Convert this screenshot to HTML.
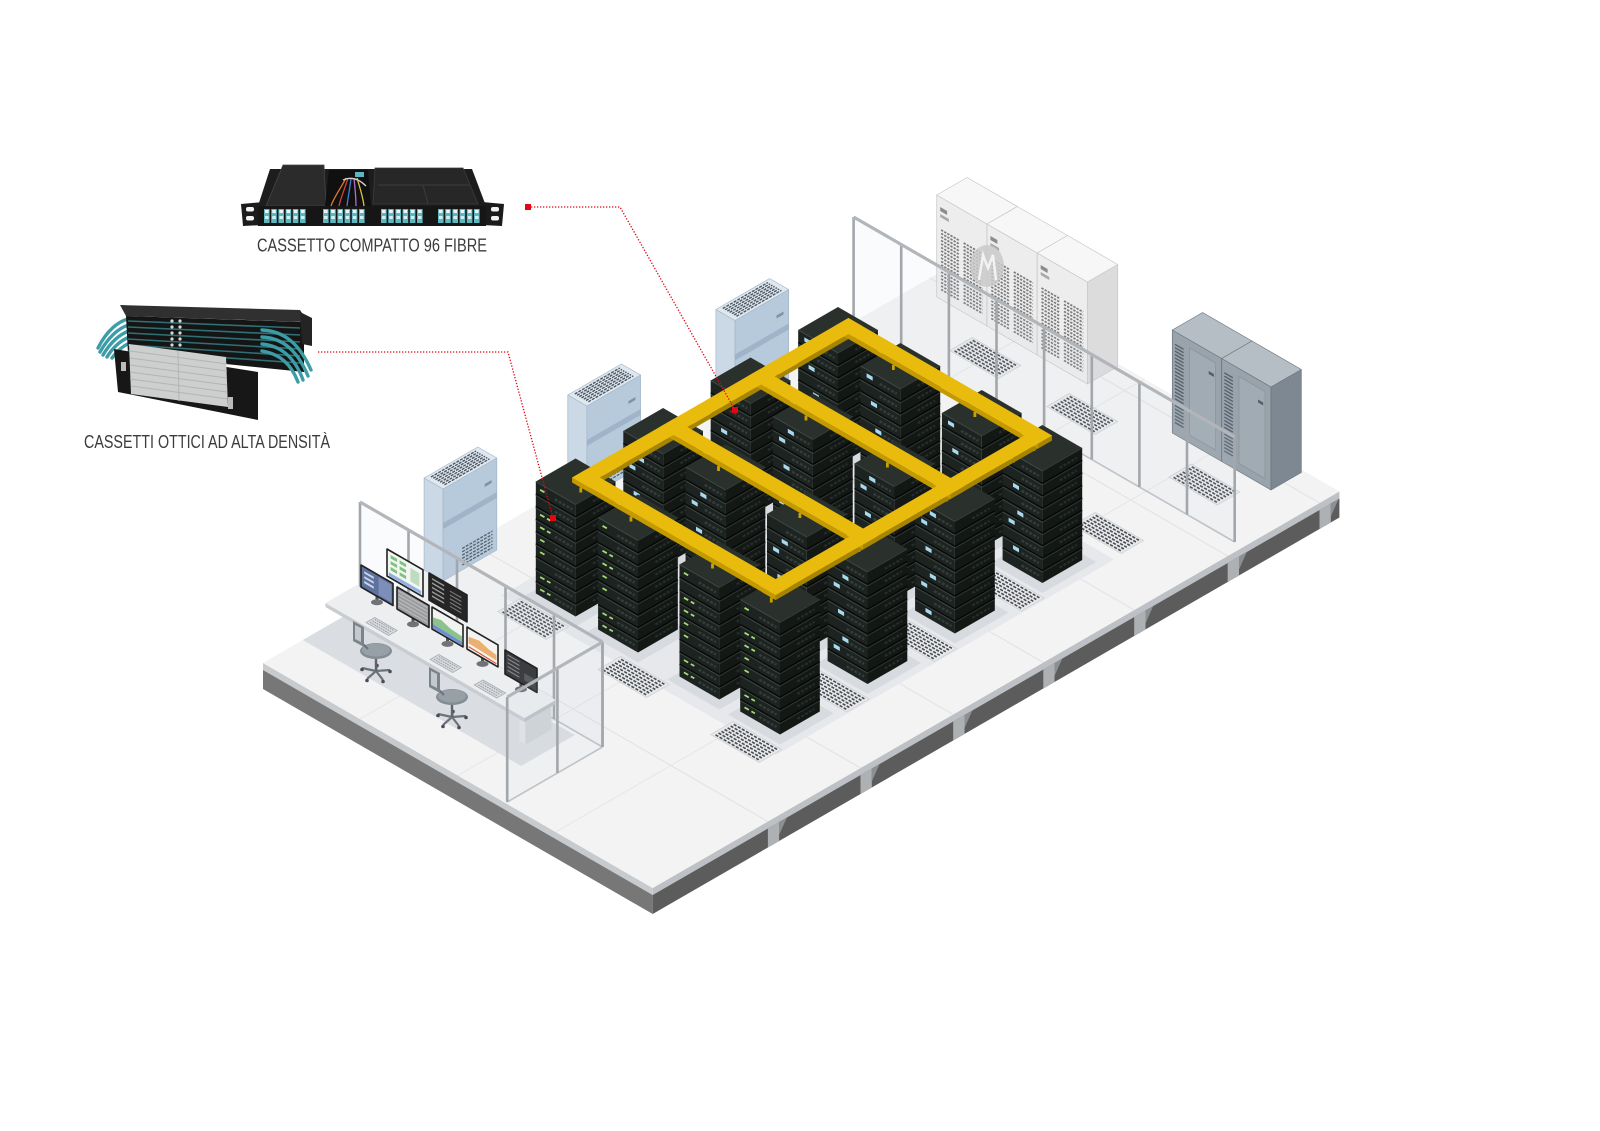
<!DOCTYPE html>
<html><head><meta charset="utf-8"><title>Data center</title>
<style>html,body{margin:0;padding:0;background:#fff;overflow:hidden}svg{display:block}</style>
</head><body>
<svg id="root" xmlns="http://www.w3.org/2000/svg" width="1600" height="1131" viewBox="0 0 1600 1131">
<rect width="1600" height="1131" fill="#ffffff"/>
<g id="scene"></g>

<!-- Product A: cassetto compatto -->
<g id="prodA">
<polygon points="241,204 263,202 263,225 243,226" fill="#1b1b1b"/>
<rect x="246" y="207" width="8" height="4.5" rx="2" fill="#f2f2f2"/>
<rect x="246" y="216" width="8" height="4.5" rx="2" fill="#f2f2f2"/>
<polygon points="482,202 504,204 502,226 482,225" fill="#1b1b1b"/>
<rect x="491" y="207" width="8" height="4.5" rx="2" fill="#f2f2f2"/>
<rect x="491" y="216" width="8" height="4.5" rx="2" fill="#f2f2f2"/>
<polygon points="270,169 472,169 486,206 258,206" fill="#1d1d1d"/>
<polygon points="283,165 324,165 326,206 266,206" fill="#2b2b2b" stroke="#454545" stroke-width="0.8"/>
<polygon points="329,170 368,170 371,206 325,206" fill="#101010"/>
<rect x="355" y="172" width="9" height="5" fill="#5bb8c0"/>
<g fill="none" stroke-width="1.3">
<path d="M346,178 C341,188 334,197 331,206" stroke="#e07b2a"/>
<path d="M348,178 C345,188 341,197 339,206" stroke="#d94040"/>
<path d="M351,178 C350,188 348,197 347,206" stroke="#3d7fd0"/>
<path d="M354,178 C355,188 356,197 356,206" stroke="#b070d0"/>
<path d="M357,178 C360,188 363,197 364,206" stroke="#e0c040"/>
<path d="M343,180 C352,176 360,180 366,186" stroke="#d0d0d0"/>
</g>
<polygon points="375,168 463,168 478,204 373,204" fill="#272727" stroke="#3d3d3d" stroke-width="0.8"/>
<line x1="378" y1="185" x2="470" y2="185" stroke="#3c3c3c"/>
<line x1="423" y1="185" x2="428" y2="204" stroke="#3c3c3c"/>
<rect x="258" y="206" width="228" height="20" fill="#161616"/>
<g id="ports"></g>
</g>

<!-- Product B: cassetti ottici -->
<g id="prodB">
<g fill="none" stroke="#3c9da6" stroke-width="3.4" stroke-linecap="round">
<path d="M132,318 C118,320 106,332 98,348"/>
<path d="M132,324 C118,327 108,338 100,352"/>
<path d="M132,330 C120,333 110,343 103,355"/>
<path d="M132,336 C122,339 113,347 107,357"/>
<path d="M132,342 C124,345 117,351 112,358"/>
</g>
<polygon points="120,305 300,310 308,322 126,316" fill="#303030"/>
<polygon points="126,316 304,322 304,372 128,354" fill="#151515"/>
<g stroke="#2e7076" stroke-width="1.6">
<line x1="128" y1="321" x2="300" y2="328"/>
<line x1="128" y1="327" x2="300" y2="335"/>
<line x1="128" y1="333" x2="300" y2="342"/>
<line x1="128" y1="339" x2="300" y2="349"/>
<line x1="128" y1="345" x2="300" y2="356"/>
<line x1="128" y1="351" x2="300" y2="363"/>
</g>
<polygon points="300,312 312,318 312,346 302,344" fill="#242424"/>
<g fill="#d8d8d8">
<circle cx="172" cy="321" r="1.6"/><circle cx="180" cy="321" r="1.6"/>
<circle cx="172" cy="327" r="1.6"/><circle cx="180" cy="327" r="1.6"/>
<circle cx="172" cy="333" r="1.6"/><circle cx="180" cy="333" r="1.6"/>
<circle cx="172" cy="339" r="1.6"/><circle cx="180" cy="339" r="1.6"/>
<circle cx="172" cy="345" r="1.6"/><circle cx="180" cy="345" r="1.6"/>
</g>
<g fill="none" stroke="#3c9da6" stroke-width="3.4" stroke-linecap="round">
<path d="M262,330 C285,331 300,345 311,370"/>
<path d="M262,337 C284,338 298,352 308,376"/>
<path d="M262,344 C282,346 295,358 303,380"/>
<path d="M262,351 C280,354 291,364 298,382"/>
</g>
<polygon points="114,349 258,372 258,420 118,392" fill="#171717"/>
<polygon points="129,344 226,357 228,407 131,394" fill="#cdcece"/>
<g stroke="#b3b4b4" stroke-width="1">
<line x1="130" y1="351" x2="227" y2="364"/>
<line x1="130" y1="358" x2="227" y2="371"/>
<line x1="130" y1="365" x2="227" y2="378"/>
<line x1="130" y1="372" x2="227" y2="385"/>
<line x1="130" y1="379" x2="227" y2="392"/>
<line x1="131" y1="386" x2="228" y2="399"/>
<line x1="178" y1="351" x2="179" y2="401"/>
</g>
<rect x="121" y="362" width="5" height="9" fill="#bbbbbb"/>
<rect x="228" y="397" width="5" height="12" fill="#bbbbbb"/>
</g>

<text x="257" y="251.5" font-family="'Liberation Sans', Arial, sans-serif" font-size="18" fill="#3c3c3c" textLength="230" lengthAdjust="spacingAndGlyphs">CASSETTO COMPATTO 96 FIBRE</text>
<text x="84" y="448" font-family="'Liberation Sans', Arial, sans-serif" font-size="18" fill="#3c3c3c" textLength="246" lengthAdjust="spacingAndGlyphs">CASSETTI OTTICI AD ALTA DENSITÀ</text>

<g id="lead" fill="none" stroke="#e30613" stroke-width="1.3" stroke-dasharray="1.3 1.7">
<polyline points="528,207 620,207 735,410"/>
<polyline points="318,352 508,352 553,518"/>
</g>
<rect x="525" y="204" width="6" height="6" fill="#e30613"/>
<rect x="732" y="407" width="6" height="6" fill="#e30613"/>
<rect x="550" y="515" width="6" height="6" fill="#e30613"/>
</svg>
<script>
(function(){
var LX=263, LY=663, C=0.8660;
function P(s,t,h){return [LX+C*(s+t), LY+0.5*(s-t)-(h||0)];}
var o=[];
function f(n){return n.toFixed(1);}
function pts(a){return a.map(function(p){return f(p[0])+','+f(p[1]);}).join(' ');}
function poly(a,fill,ex){o.push('<polygon points="'+pts(a)+'" fill="'+fill+'" '+(ex||'')+'/>');}
function ln(a,b,st,w,ex){o.push('<line x1="'+f(a[0])+'" y1="'+f(a[1])+'" x2="'+f(b[0])+'" y2="'+f(b[1])+'" stroke="'+st+'" stroke-width="'+w+'" '+(ex||'')+'/>');}
function quadS(s0,s1,t,h0,h1,fill,ex){poly([P(s0,t,h0),P(s1,t,h0),P(s1,t,h1),P(s0,t,h1)],fill,ex);}
function quadT(s,t0,t1,h0,h1,fill,ex){poly([P(s,t0,h0),P(s,t1,h0),P(s,t1,h1),P(s,t0,h1)],fill,ex);}
function flat(s0,s1,t0,t1,h,fill,ex){poly([P(s0,t0,h),P(s1,t0,h),P(s1,t1,h),P(s0,t1,h)],fill,ex);}
function box(s0,t0,ds,dt,h0,H,cT,cL,cR,sk){
  var s1=s0+ds,t1=t0+dt,h1=h0+H;
  var ex=sk?'stroke="'+sk+'" stroke-width="0.7" stroke-linejoin="round"':'';
  quadS(s0,s1,t0,h0,h1,cL,ex);
  quadT(s1,t0,t1,h0,h1,cR,ex);
  flat(s0,s1,t0,t1,h1,cT,ex);
}

/* ---------- floor ---------- */
quadS(0,450,0,0,-7,'#c8cbce');
quadS(0,450,0,-7,-26,'#777777');
quadT(450,0,793,0,-7,'#bdc0c4');
quadT(450,0,793,-7,-26,'#5c5c5d');
var notches=[133,240,347,451,556,664,770];
notches.forEach(function(t){
  quadT(450,t,t+13,-7,-26,'#aeb1b4');
  poly([P(450,t+13,-7),P(450,t+22,-7),P(450,t+13,-20)],'#8d9093');
});
flat(0,450,0,793,0,'#f3f3f4');
notches.forEach(function(t){ ln(P(0,t),P(450,t),'#e0e1e3',1); });
[112,225,338].forEach(function(s){ ln(P(s,0),P(s,793),'#e5e6e8',1); });

/* shadows */
var rows=[227,328,429,530];
var SL=[88,160,254,324];
var RD=46, RH=112;
flat(70,388,205,595,0,'#e6e8eb');
rows.forEach(function(t0){
  SL.forEach(function(s0){ flat(s0-4,s0+RD+10,t0-10,t0+RD+6,0,'#d7dade'); });
});
flat(0,252,46,108,0,'#dadde1');

/* vents */
function vent(sc,tc,ds,dt){
  var s0=sc-ds/2,s1=sc+ds/2,t0=tc-dt/2,t1=tc+dt/2;
  flat(s0,s1,t0,t1,0,'#e8e9eb','stroke="#cfd2d5" stroke-width="0.8"');
  var n=Math.floor(dt/3.4);
  for(var i=0;i<n;i++){var t=t0+2.5+i*((dt-5)/(n-1));
    ln(P(s0+3,t),P(s1-3,t),'#4a4e54',1.6,'stroke-dasharray="3.2 1.5"');}
}
rows.forEach(function(t0){ [112,228,358].forEach(function(s){ vent(s,t0-27,56,26); }); });
vent(358,618,56,26);
vent(112,722,56,26); vent(224,722,56,26); vent(365,722,56,26);

/* ---------- AC units ---------- */
function ac(t0){var ds=22,dt=62,H=92;
  box(0,t0,ds,dt,0,H,'#dfe7ef','#cbd9e6','#b7cadb','#a3b6c8');
  quadT(ds,t0,t0+dt,52,58,'#9fb4c9');
  for(var i=0;i<7;i++){var s=3+i*2.6; ln(P(s,t0+5,H),P(s,t0+dt-5,H),'#4e5863',1.4,'stroke-dasharray="3 1.2"');}
  for(var j=0;j<6;j++){var h=5+j*3.3; ln(P(ds,t0+22,h),P(ds,t0+dt-5,h),'#5a6672',1.4,'stroke-dasharray="3 1.2"');}
  quadT(ds,t0+dt-14,t0+dt-6,70,73,'#7f93a7');
}
[186,352,523].forEach(ac);

/* ---------- UPS cabinets ---------- */
for(var i=0;i<3;i++){var s0=23+58*i;
  box(s0,755,58,35,0,102,'#f7f7f7','#ededed','#dcdcdc','#c6c6c6');
  [[s0+5,s0+26],[s0+31,s0+53]].forEach(function(ab){
    for(var h=10;h<70;h+=3.5) ln(P(ab[0],755,h),P(ab[1],755,h),'#7c7c7c',1.7,'stroke-dasharray="2.4 1.2"');
  });
  quadS(s0+4,s0+12,755,88,92,'#8c8c8c');
  quadS(s0+4,s0+14,755,82,85,'#a8a8a8');
}
o.push('<ellipse cx="987" cy="266" rx="17" ry="21" fill="#c9c9c9" opacity="0.85"/>');
o.push('<path d="M979,280 L983,255 L988,268 L993,255 L996,280" fill="none" stroke="#f2f2f2" stroke-width="2.5"/>');

/* ---------- gray cabinets ---------- */
for(var k=0;k<2;k++){var g0=295+57*k;
  box(g0,755,57,35,0,103,'#b6bec5','#99a3ac','#7e8892','#6c757e');
  for(var hh=12;hh<92;hh+=3.4) ln(P(g0+3,755,hh),P(g0+13,755,hh),'#55606a',1.3);
  quadS(g0+20,g0+50,755,8,95,'#a1abb3','stroke="#8a949d" stroke-width="0.8"');
  quadS(g0+42,g0+48,755,80,83,'#55606a');
}

/* ---------- fences ---------- */
function fenceS(t,list,H){var a=list[0],b=list[list.length-1];
  quadS(a,b,t,0,H,'rgba(205,214,223,0.09)');
  ln(P(a,t,0),P(b,t,0),'#bfc3c7',1.6);
  list.forEach(function(s){ln(P(s,t,0),P(s,t,H),'#a3a7ab',2.6);});
  ln(P(a,t,H),P(b,t,H),'#b2b6ba',3.2);
}
function fenceT(s,list,H){var a=list[0],b=list[list.length-1];
  quadT(s,a,b,0,H,'rgba(205,214,223,0.09)');
  ln(P(s,a,0),P(s,b,0),'#bfc3c7',1.6);
  list.forEach(function(t){ln(P(s,t,0),P(s,t,H),'#a3a7ab',2.6);});
  ln(P(s,a,H),P(s,b,H),'#b2b6ba',3.2);
}
fenceS(682,[0,55,110,165,220,275,330,385,440],105);

/* ---------- racks ---------- */
function rack(s0,t0,ri,kk){
  var ds=RD,dt=RD,H=RH,n=9,sh=H/n,s1=s0+ds,t1=t0+dt;
  box(s0,t0,ds,dt,0,H,'#2a312d','#1c2320','#131815');
  for(var i=1;i<n;i++){var h=i*sh;
    ln(P(s0,t0,h),P(s1,t0,h),'#080b0a',1.5);
    ln(P(s0,t0,h-1.5),P(s1,t0,h-1.5),'#3d4641',1);
    ln(P(s1,t0,h),P(s1,t1,h),'#060807',1.5);
    ln(P(s1,t0,h-1.5),P(s1,t1,h-1.5),'#2e3632',1);
  }
  ln(P(s0,t0,H),P(s1,t0,H),'#414a45',1);
  ln(P(s1,t0,H),P(s1,t1,H),'#353d39',1);
  for(var j=0;j<n;j++){var hb=j*sh+sh*0.45;
    ln(P(s0+22,t0,hb),P(s0+42,t0,hb),'#343d39',2.4,'stroke-dasharray="3 1.5"');
    ln(P(s1,t0+20,hb),P(s1,t0+40,hb),'#262d2a',2.2,'stroke-dasharray="3 1.5"');
    var r=(j*7+kk*5+ri*3)%5;
    if(ri===0){
      if(r<4){ ln(P(s0+5,t0,hb+1),P(s0+10,t0,hb+1),'#a3dc72',1.8);
        if(r%2===0) ln(P(s0+13,t0,hb+1),P(s0+17,t0,hb+1),'#a3dc72',1.8); }
    } else {
      if(r<3){ var sa=s0+7+r*5;
        poly([P(sa,t0,hb-1),P(sa+7,t0,hb-1),P(sa+7,t0,hb+3),P(sa,t0,hb+3)],'#a9d9ef'); }
    }
  }
}
var racks=[];
rows.forEach(function(t0,ri){SL.forEach(function(s0,kk){racks.push({s0:s0,t0:t0,ri:ri,kk:kk});});});
racks.sort(function(a,b){return (a.s0-a.t0)-(b.s0-b.t0);});
racks.forEach(function(r){rack(r.s0,r.t0,r.ri,r.kk);});

/* ---------- yellow cable tray ---------- */
var FH=122,FT=5;
var bars=[];
[123,342].forEach(function(s){bars.push([s-8,242,16,319]);});
[250,351,452,553].forEach(function(t){bars.push([115,t-8,235,16]);});
[250,351,452,553].forEach(function(t){[125,183,277,345].forEach(function(s){ln(P(s,t-8,RH),P(s,t-8,FH-FT),'#c9a200',2.8);});});
bars.forEach(function(b){quadS(b[0],b[0]+b[2],b[1],FH-FT,FH,'#c49a00');quadT(b[0]+b[2],b[1],b[1]+b[3],FH-FT,FH,'#a88500');});
bars.forEach(function(b){flat(b[0],b[0]+b[2],b[1],b[1]+b[3],FH,'#e9bb0c');});

/* ---------- fence A ---------- */
fenceS(112,[0,56,112,168,224,280],105);

/* ---------- desk ---------- */
box(226,70,7,30,0,26,'#e6e8ea','#e1e4e7','#cfd3d7');
box(6,66,230,36,26,4,'#eceef0','#c9cdd2','#bcc1c6');

function mon(x,y,w,hg,fill,fn){
  function Q(u,v){return [x+u*w, y+u*w*0.577+v*hg];}
  poly([Q(0,0),Q(1,0),Q(1,1),Q(0,1)],fill,'stroke="#222" stroke-width="1.6" stroke-linejoin="round"');
  if(fn) fn(Q);
}
function blk(Q,u0,u1,v0,v1,c){poly([Q(u0,v0),Q(u1,v0),Q(u1,v1),Q(u0,v1)],c);}
function stand(x,y,w,hg){var cx=x+w/2, cy=y+w*0.577/2+hg;
  ln([cx,cy],[cx,cy+5],'#555',3);
  o.push('<ellipse cx="'+f(cx)+'" cy="'+f(cy+6)+'" rx="6" ry="3" fill="#6e7378"/>');}
mon(387,549,36,27,'#f2f5f2',function(Q){
  for(var a=0;a<2;a++)for(var b=0;b<3;b++)blk(Q,0.1+a*0.25,0.28+a*0.25,0.15+b*0.22,0.27+b*0.22,'#7cc37c');
  blk(Q,0.65,0.9,0.2,0.7,'#bfdcbf'); blk(Q,0.05,0.95,0.82,0.95,'#8fb0e0');});
mon(429,573,38,27,'#262626',function(Q){
  for(var b=0;b<5;b++){blk(Q,0.08,0.4,0.12+b*0.16,0.18+b*0.16,'#9a9a9a');blk(Q,0.55,0.85,0.2+b*0.14,0.25+b*0.14,'#777');}});
stand(361,565,32,22); mon(361,565,32,22,'#5e729e',function(Q){
  blk(Q,0.55,0.95,0.1,0.9,'#7d8fb8'); for(var b=0;b<3;b++)blk(Q,0.1,0.4,0.2+b*0.22,0.3+b*0.22,'#c9d3ea');});
stand(397,587,32,22); mon(397,587,32,22,'#9a9b9c',function(Q){
  for(var b=0;b<5;b++)blk(Q,0.05,0.95,0.1+b*0.17,0.17+b*0.17,'#b7b8b9');});
stand(432,607,31,22); mon(432,607,31,22,'#f1f3f1',function(Q){
  poly([Q(0.03,0.45),Q(0.3,0.35),Q(0.6,0.5),Q(0.97,0.55),Q(0.97,0.8),Q(0.03,0.75)],'#8cc38c');
  poly([Q(0.03,0.75),Q(0.97,0.8),Q(0.97,0.95),Q(0.03,0.95)],'#6b8fd0');});
stand(467,627,31,22); mon(467,627,31,22,'#f5f3ef',function(Q){
  poly([Q(0.05,0.4),Q(0.4,0.3),Q(0.7,0.45),Q(0.95,0.5),Q(0.95,0.75),Q(0.05,0.7)],'#eab070');
  ln(Q(0.05,0.85),Q(0.95,0.9),'#d85a3a',1.2);});
stand(505,650,32,24); mon(505,650,32,24,'#3b3d40',function(Q){
  for(var b=0;b<5;b++)blk(Q,0.08,0.45,0.12+b*0.16,0.17+b*0.16,'#8a8c8e');
  blk(Q,0.6,0.9,0.5,0.8,'#5a5c5e');});

function kb(sc){flat(sc-13,sc+13,70,80,30,'#d8dbde','stroke="#a9adb1" stroke-width="0.8"');
  for(var i=0;i<3;i++){var t=72.5+i*2.8; ln(P(sc-11,t,30),P(sc+11,t,30),'#9ca1a6',1.1,'stroke-dasharray="1.6 0.9"');}}
kb(62); kb(136); kb(187);

function chair(cx,cy){
  var lg=[[-14,-3],[-9,8],[7,9],[14,-1],[1,-7]];
  lg.forEach(function(d){ln([cx,cy+20],[cx+d[0],cy+20+d[1]],'#6b7278',2.2);
    o.push('<circle cx="'+(cx+d[0])+'" cy="'+(cy+21.5+d[1])+'" r="1.8" fill="#4a4f54"/>');});
  ln([cx,cy+4],[cx,cy+20],'#5d646a',2.4);
  o.push('<ellipse cx="'+cx+'" cy="'+cy+'" rx="16" ry="8" fill="#848c93"/>');
  o.push('<ellipse cx="'+cx+'" cy="'+(cy-1)+'" rx="14" ry="6.5" fill="#98a0a7"/>');
  ln([cx-16,cy-10],[cx-8,cy-2],'#6b7278',2);
  poly([[cx-23,cy-30],[cx-12,cy-24],[cx-12,cy-4],[cx-23,cy-10]],'#7c848b');
  poly([[cx-21,cy-26],[cx-15,cy-23],[cx-15,cy-9],[cx-21,cy-12]],'#c4c9cd');
}
chair(376,651); chair(452,697);

/* ---------- vestibule ---------- */
fenceT(280,[2,60,112],105);

document.getElementById('scene').innerHTML=o.join('');

var p=[];
[264,323,381,438].forEach(function(gx){
  for(var j=0;j<6;j++){var x=gx+j*7.2;
    p.push('<rect x="'+x.toFixed(1)+'" y="209" width="5.6" height="14" fill="#5cb7bf"/>');
    p.push('<rect x="'+(x+1).toFixed(1)+'" y="210" width="3.6" height="3" fill="#e8f6f7"/>');
    p.push('<rect x="'+(x+1).toFixed(1)+'" y="216" width="3.6" height="3" fill="#d5eef0"/>');
  }
});
document.getElementById('ports').innerHTML=p.join('');
})();
</script>
</body></html>
